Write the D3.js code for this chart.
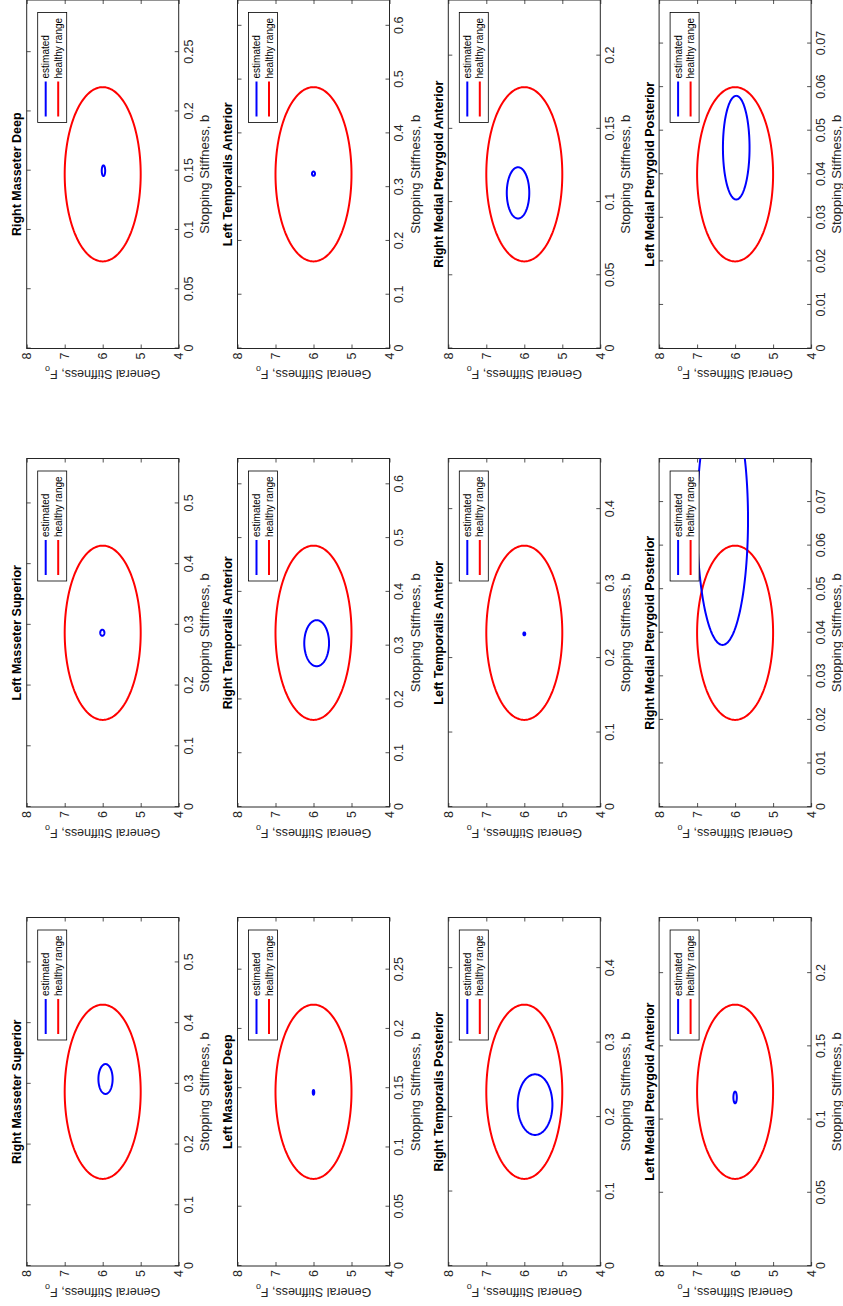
<!DOCTYPE html>
<html>
<head>
<meta charset="utf-8">
<script src="https://cdn.jsdelivr.net/npm/d3@7"></script>
<style>
  html, body { margin: 0; padding: 0; background: #fff; }
  svg { display: block; font-family: "Liberation Sans", Arial, Helvetica, sans-serif; }
</style>
</head>
<body>
<svg id="fig" width="843" height="1306"></svg>
<script>
// Muscle panels, 4 rows x 3 columns, row-major order
const titles = [
  "Right Masseter Superior", "Left Masseter Superior", "Right Masseter Deep",
  "Left Masseter Deep", "Right Temporalis Anterior", "Left Temporalis Anterior",
  "Right Temporalis Posterior", "Left Temporalis Anterior", "Right Medial Pterygoid Anterior",
  "Left Medial Pterygoid Anterior", "Right Medial Pterygoid Posterior", "Left Medial Pterygoid Posterior"
];

// Healthy stopping stiffness b (centre of healthy range); healthy F_o is 6 +/- 1
const healthyB = [0.287, 0.287, 0.147, 0.147, 0.324, 0.324, 0.234, 0.234, 0.119, 0.119, 0.040, 0.040];
const healthyF = 6;
const healthySpanF = 1;

// Estimated parameters: centre and spread of the confidence ellipse
const estB      = [0.308, 0.287, 0.150, 0.1465, 0.3046, 0.325, 0.2167, 0.2325, 0.1063, 0.1151, 0.066, 0.0461];
const estF      = [5.926, 6.01, 5.98, 6.00, 5.917, 6.00, 5.717, 6.00, 6.165, 6.00, 6.33, 5.97];
const estSpanB  = [0.0246, 0.005, 0.0045, 0.002, 0.0428, 0.004, 0.0407, 0.002, 0.0175, 0.004, 0.0288, 0.0119];
const estSpanF  = [0.187, 0.055, 0.045, 0.02, 0.326, 0.04, 0.457, 0.025, 0.296, 0.045, 0.67, 0.35];

// Tick values
const bTicks = [
  [0, 0.1, 0.2, 0.3, 0.4, 0.5], [0, 0.1, 0.2, 0.3, 0.4, 0.5], [0, 0.05, 0.1, 0.15, 0.2, 0.25],
  [0, 0.05, 0.1, 0.15, 0.2, 0.25], [0, 0.1, 0.2, 0.3, 0.4, 0.5, 0.6], [0, 0.1, 0.2, 0.3, 0.4, 0.5, 0.6],
  [0, 0.1, 0.2, 0.3, 0.4], [0, 0.1, 0.2, 0.3, 0.4], [0, 0.05, 0.1, 0.15, 0.2],
  [0, 0.05, 0.1, 0.15, 0.2], [0, 0.01, 0.02, 0.03, 0.04, 0.05, 0.06, 0.07], [0, 0.01, 0.02, 0.03, 0.04, 0.05, 0.06, 0.07]
];
const fTicks = [4, 5, 6, 7, 8];
const legendLabels = ["estimated", "healthy range"];
const xLabel = "Stopping Stiffness, b";
const yLabel = "General Stiffness, F";
const yLabelSub = "o";

// Figure is laid out landscape, then turned a quarter turn for the page
const FIG_W = 1306, FIG_H = 843;
const colLeft = [40, 499, 957.5];
const rowTop = [26.7, 237.5, 448.3, 659.1];
const axW = 348.5, axH = 152;
const AX = "#262626";
const BLUE = "#0000ff", RED = "#ff0000";

const svg = d3.select("#fig");
const root = svg.append("g").attr("transform", `translate(0,${FIG_W}) rotate(-90)`);
const defs = svg.append("defs");

const fmt = d3.format("~g");

titles.forEach((title, i) => {
  const r = Math.floor(i / 3), c = i % 3;
  const left = colLeft[c], top = rowTop[r];
  const x = d3.scaleLinear().domain([0, 2 * healthyB[i]]).range([left, left + axW]);
  const y = d3.scaleLinear().domain([4, 8]).range([top + axH, top]);

  const g = root.append("g").attr("class", "panel");

  const clipId = "clip" + i;
  defs.append("clipPath").attr("id", clipId)
    .append("rect").attr("x", left).attr("y", top).attr("width", axW).attr("height", axH);

  // axes
  const styleAxis = sel => {
    sel.select(".domain").remove();
    sel.selectAll(".tick line").attr("stroke", AX).attr("stroke-width", 0.8);
    sel.selectAll(".tick text").attr("fill", AX).style("font-size", "12.5px")
      .style("font-family", '"Liberation Sans", Arial, sans-serif');
  };
  g.append("g").attr("transform", `translate(0,${top + axH})`)
    .call(d3.axisBottom(x).tickValues(bTicks[i]).tickFormat(fmt).tickSizeInner(-4).tickSizeOuter(0).tickPadding(5))
    .call(styleAxis);
  g.append("g").attr("transform", `translate(0,${top})`)
    .call(d3.axisTop(x).tickValues(bTicks[i]).tickFormat("").tickSizeInner(-4).tickSizeOuter(0))
    .call(styleAxis);
  g.append("g").attr("transform", `translate(${left},0)`)
    .call(d3.axisLeft(y).tickValues(fTicks).tickFormat(fmt).tickSizeInner(-4).tickSizeOuter(0).tickPadding(4))
    .call(styleAxis);
  g.append("g").attr("transform", `translate(${left + axW},0)`)
    .call(d3.axisRight(y).tickValues(fTicks).tickFormat("").tickSizeInner(-4).tickSizeOuter(0))
    .call(styleAxis);
  g.append("rect").attr("x", left).attr("y", top).attr("width", axW).attr("height", axH)
    .attr("fill", "none").attr("stroke", AX).attr("stroke-width", 1);

  // ellipses
  const angles = d3.range(0, 361, 2).map(a => a * Math.PI / 180);
  const ellipse = (cb, cf, sb, sf) => angles.map(t => [cb + sb * Math.cos(t), cf + sf * Math.sin(t)]);
  const line = d3.line().x(d => x(d[0])).y(d => y(d[1]));
  const plot = g.append("g").attr("clip-path", `url(#${clipId})`);
  plot.append("path")
    .attr("d", line(ellipse(healthyB[i], healthyF, healthyB[i] / 2, healthySpanF)))
    .attr("fill", "none").attr("stroke", RED).attr("stroke-width", 2);
  plot.append("path")
    .attr("d", line(ellipse(estB[i], estF[i], estSpanB[i], estSpanF[i])))
    .attr("fill", "none").attr("stroke", BLUE).attr("stroke-width", 2);

  // labels
  g.append("text").attr("x", left + axW / 2).attr("y", top + axH + 30)
    .attr("text-anchor", "middle").attr("fill", AX).style("font-size", "13px").text(xLabel);
  const yl = g.append("text")
    .attr("transform", `translate(${left - 21.5},${top + axH / 2}) rotate(-90)`)
    .attr("text-anchor", "middle").attr("fill", AX).style("font-size", "12.5px");
  yl.append("tspan").text(yLabel);
  yl.append("tspan").attr("dy", 4).style("font-size", "9px").text(yLabelSub);
  g.append("text").attr("x", left + axW / 2).attr("y", top - 5.5)
    .attr("text-anchor", "middle").attr("fill", "#000").style("font-size", "12.5px")
    .style("font-weight", "bold").text(title);

  // legend
  const lw = 110, lh = 29;
  const lx = left + axW - 12.5 - lw, ly = top + 11;
  const lg = g.append("g").attr("transform", `translate(${lx},${ly})`);
  lg.append("rect").attr("width", lw).attr("height", lh)
    .attr("fill", "#fff").attr("stroke", "#000").attr("stroke-width", 0.8);
  [BLUE, RED].forEach((col, k) => {
    const yy = 8 + k * 12.5;
    lg.append("line").attr("x1", 6).attr("x2", 41).attr("y1", yy).attr("y2", yy)
      .attr("stroke", col).attr("stroke-width", 2);
    lg.append("text").attr("x", 44).attr("y", yy).attr("dy", "0.35em")
      .attr("fill", "#000").style("font-size", "10px").text(legendLabels[k]);
  });
});
</script>
</body>
</html>
